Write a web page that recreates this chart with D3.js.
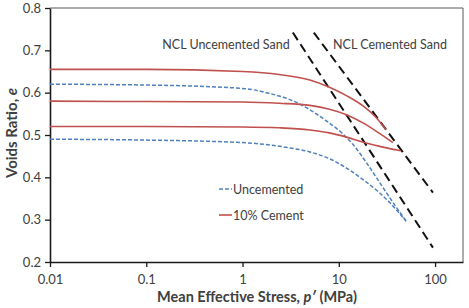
<!DOCTYPE html>
<html lang="en">
<head>
<meta charset="UTF-8">
<title>Voids ratio vs mean effective stress</title>
<script src="https://d3js.org/d3.v7.min.js"></script>
<style>
    html, body { margin: 0; padding: 0; background: #fff; }
    svg text { font-family: 'Lato', 'Open Sans', sans-serif; fill: #404040; }
</style>
</head>
<body>
<div id="chart"></div>
<script>

// tick labels
var xTicks = [0.01, 0.1, 1, 10, 100];
var yTicks = [0.2, 0.3, 0.4, 0.5, 0.6, 0.7, 0.8];

// 10% cement curves (p' in MPa, e)
var cementP1 = [0.01, 0.1, 1, 2.4, 5, 8, 12, 18, 24, 30.8];
var cementE1 = [0.655, 0.655, 0.650, 0.643, 0.630, 0.613, 0.593, 0.568, 0.543, 0.513];
var cementP2 = [0.01, 0.1, 1, 2.4, 5, 8, 12, 18, 26, 36.5];
var cementE2 = [0.580, 0.579, 0.578, 0.575, 0.570, 0.561, 0.548, 0.528, 0.505, 0.482];
var cementP3 = [0.01, 0.1, 1, 2.4, 5, 8, 12, 18, 28, 44];
var cementE3 = [0.520, 0.520, 0.519, 0.517, 0.512, 0.505, 0.495, 0.483, 0.472, 0.463];

// uncemented curves
var uncemP1 = [0.01, 0.1, 1, 2, 3, 4.5, 6, 8, 10.5, 14, 20, 28, 38, 50];
var uncemE1 = [0.620, 0.618, 0.610, 0.597, 0.585, 0.566, 0.548, 0.528, 0.507, 0.478, 0.430, 0.380, 0.335, 0.297];
var uncemP2 = [0.01, 0.1, 1, 2, 3, 5, 8, 12, 18, 26, 34, 50];
var uncemE2 = [0.490, 0.488, 0.482, 0.476, 0.470, 0.460, 0.444, 0.422, 0.394, 0.365, 0.340, 0.296];

// normal compression lines
var nclUncemP = [3.33, 95];
var nclUncemE = [0.742, 0.234];
var nclCemP = [5.5, 95];
var nclCemE = [0.742, 0.364];

var W = 469, H = 308;
var margin = {top: 8, right: 6, bottom: 46, left: 50};

var svg = d3.select('#chart')
    .append('svg')
    .attr('width', W)
    .attr('height', H);

var x = d3.scaleLog()
    .domain([0.01, 195])
    .range([margin.left, W - margin.right]);

var y = d3.scaleLinear()
    .domain([0.2, 0.8])
    .range([H - margin.bottom, margin.top]);

function pts(ps, es) {
    return ps.map(function(p, i) { return [p, es[i]]; });
}

var line = d3.line()
    .x(function(d) { return x(d[0]); })
    .y(function(d) { return y(d[1]); })
    .curve(d3.curveMonotoneX);

// plot frame (top & right)
svg.append('path')
    .attr('d', 'M' + x.range()[0] + ',' + y(0.8) + 'H' + x.range()[1] + 'V' + y(0.2))
    .attr('fill', 'none')
    .attr('stroke', '#595959')
    .attr('stroke-width', 1);

// axes
var xAxis = svg.append('g')
    .attr('transform', 'translate(0,' + y(0.2) + ')')
    .call(d3.axisBottom(x).tickValues(xTicks).tickSize(5).tickSizeOuter(0)
        .tickFormat(function(d) { return d3.format('~g')(d); }));

var yAxis = svg.append('g')
    .attr('transform', 'translate(' + x(0.01) + ',0)')
    .call(d3.axisLeft(y).tickValues(yTicks).tickSize(5).tickSizeOuter(0)
        .tickFormat(d3.format('.1f')));

[xAxis, yAxis].forEach(function(g) {
    g.select('.domain').attr('stroke', '#1a1a1a').attr('stroke-width', 1.6);
    g.selectAll('.tick line').attr('stroke', '#1a1a1a').attr('stroke-width', 1.3);
    g.selectAll('.tick text')
        .style('font-size', '13px')
        .attr('fill', '#404040');
});
xAxis.selectAll('.tick text').attr('dy', '1.1em');
yAxis.selectAll('.tick text').attr('x', -9);

// NCL lines
[[nclUncemP, nclUncemE], [nclCemP, nclCemE]].forEach(function(s) {
    svg.append('path')
        .attr('d', d3.line().x(function(d) { return x(d[0]); }).y(function(d) { return y(d[1]); })(pts(s[0], s[1])))
        .attr('fill', 'none')
        .attr('stroke', '#111')
        .attr('stroke-width', 2)
        .attr('stroke-dasharray', '9,5');
});

// uncemented curves
[[uncemP1, uncemE1], [uncemP2, uncemE2]].forEach(function(s) {
    svg.append('path')
        .attr('d', line(pts(s[0], s[1])))
        .attr('fill', 'none')
        .attr('stroke', '#4f81bd')
        .attr('stroke-width', 1.5)
        .attr('stroke-dasharray', '4,2');
});

// cemented curves
[[cementP1, cementE1], [cementP2, cementE2], [cementP3, cementE3]].forEach(function(s) {
    svg.append('path')
        .attr('d', line(pts(s[0], s[1])))
        .attr('fill', 'none')
        .attr('stroke', '#c0504d')
        .attr('stroke-width', 1.6);
});

// NCL labels
svg.append('text')
    .attr('x', 226).attr('y', 49)
    .attr('text-anchor', 'middle')
    .style('font-size', '12.5px')
    .text('NCL Uncemented Sand');
svg.append('text')
    .attr('x', 390).attr('y', 49)
    .attr('text-anchor', 'middle')
    .style('font-size', '12.5px')
    .text('NCL Cemented Sand');

// legend
var legend = svg.append('g');
legend.append('line')
    .attr('x1', 219).attr('x2', 232).attr('y1', 189).attr('y2', 189)
    .attr('stroke', '#4f81bd').attr('stroke-width', 1.5).attr('stroke-dasharray', '4,2');
legend.append('text')
    .attr('x', 233).attr('y', 193.5)
    .style('font-size', '12.5px')
    .text('Uncemented');
legend.append('line')
    .attr('x1', 219).attr('x2', 232).attr('y1', 215).attr('y2', 215)
    .attr('stroke', '#c0504d').attr('stroke-width', 1.6);
legend.append('text')
    .attr('x', 233).attr('y', 219.5)
    .style('font-size', '12.5px')
    .text('10% Cement');

// axis titles
var xt = svg.append('text')
    .attr('x', 257).attr('y', 302)
    .attr('text-anchor', 'middle')
    .style('font-size', '14.5px')
    .style('font-weight', 'bold');
xt.append('tspan').text('Mean Effective Stress, ');
xt.append('tspan').style('font-style', 'italic').text('p\u2032');
xt.append('tspan').text(' (MPa)');

var yt = svg.append('text')
    .attr('transform', 'translate(17,133) rotate(-90)')
    .attr('text-anchor', 'middle')
    .style('font-size', '15px')
    .style('font-weight', 'bold');
yt.append('tspan').text('Voids Ratio, ');
yt.append('tspan').style('font-style', 'italic').text('e');

</script>
</body>
</html>
